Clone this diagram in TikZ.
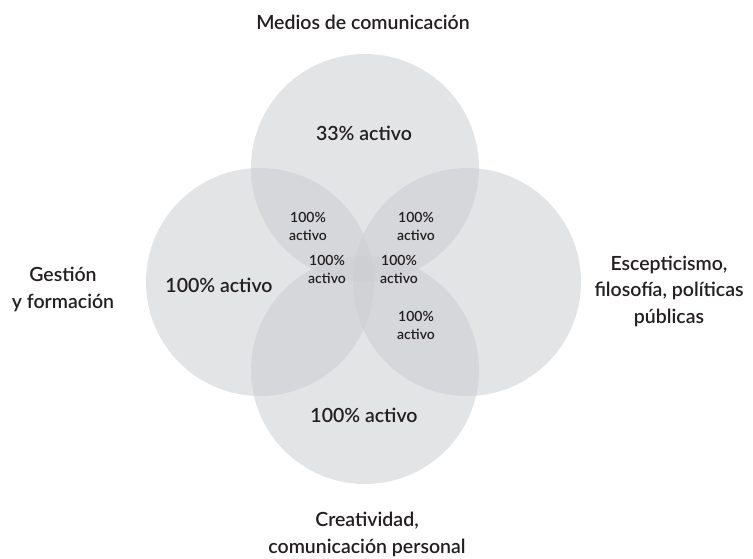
\documentclass[tikz,border=0pt]{standalone}
\usepackage{fontspec}
\setmainfont{Lato}[UprightFont={* Semibold}]
\definecolor{txt}{RGB}{35,31,32}
\definecolor{cfill}{RGB}{205,206,209}
\begin{document}
\begin{tikzpicture}[x=1pt,y=-1pt,
  circ/.style={fill=cfill,fill opacity=0.55,draw=none},
  big/.style={text=txt,font=\fontsize{19.5}{26.5}\selectfont,align=center,inner sep=0pt,anchor=base},
  mid/.style={text=txt,font=\fontsize{19.5}{24}\selectfont,inner sep=0pt,anchor=base},
  small/.style={text=txt,font=\fontsize{14}{18}\selectfont,align=center,inner sep=0pt,anchor=base}]
\useasboundingbox[fill=white] (0,0) rectangle (753,558);
\fill[circ] (365,168) circle (114);
\fill[circ] (260,282) circle (114);
\fill[circ] (467,282) circle (114);
\fill[circ] (365,370) circle (114);
\node[big] (tt) at (363,29) {Medios de comunicación};
\node[big] (lt) at (63,308) {Gestión\\y formación};
\node[big] (rt) at (669,323) {Escepticismo,\\filosofía, políticas\\públicas};
\node[big] (bt) at (367,553) {Creatividad,\\comunicación personal};
\node[mid] (a1) at (364,140) {33\% activo};
\node[mid] (a2) at (219,292) {100\% activo};
\node[mid] (a3) at (364,422) {100\% activo};
\node[small] (s1) at (308,240) {100\%\\activo};
\node[small] (s2) at (416,240) {100\%\\activo};
\node[small] (s3) at (327,283) {100\%\\activo};
\node[small] (s4) at (399,283) {100\%\\activo};
\node[small] (s5) at (416,339) {100\%\\activo};
\end{tikzpicture}
\end{document}
